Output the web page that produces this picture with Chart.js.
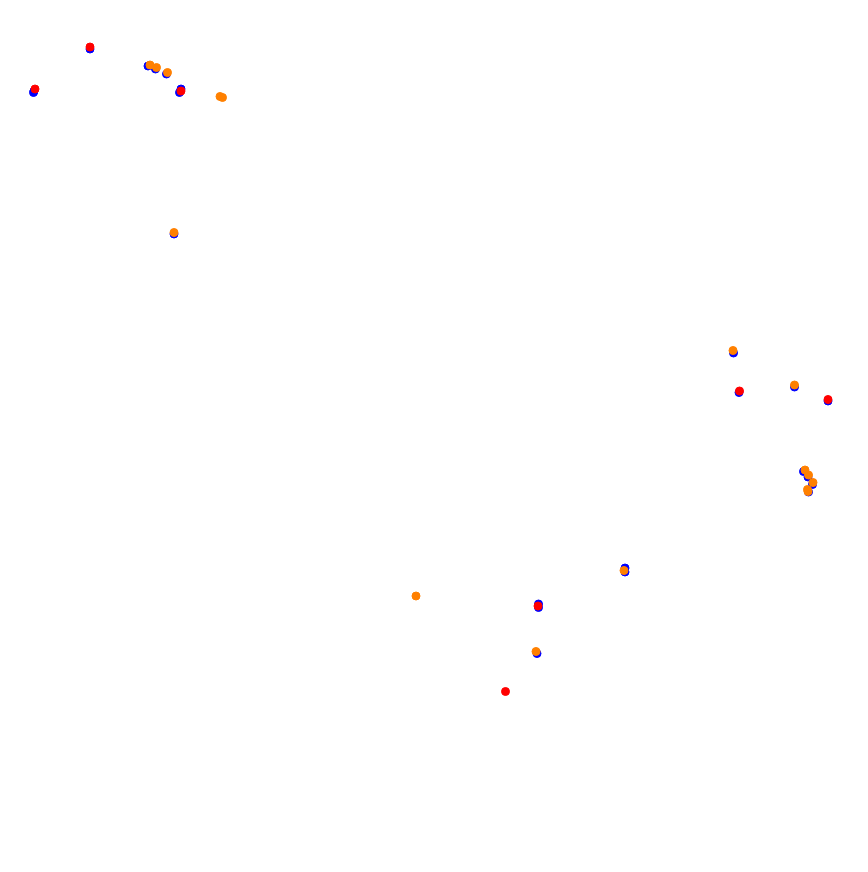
<!DOCTYPE html>
<html>
<head>
<meta charset="utf-8">
<script src="https://cdn.jsdelivr.net/npm/chart.js"></script>
<style>
  html, body { margin: 0; padding: 0; background: #fff; }
  #wrap { width: 868px; height: 872px; }
</style>
</head>
<body>
<div id="wrap"><canvas id="myChart"></canvas></div>
<script>
// blue = all points, red / orange = the two matched subsets
var blueX = [33.5, 34, 90, 148, 155.5, 166.5, 181, 179.5, 174, 733.5, 739, 794.5, 828, 803.5, 808, 812.5, 808.5, 625, 625, 538.5, 538.5, 537];
var blueY = [92.5, 91, 49, 66, 69, 74, 89, 92.5, 234, 353, 392.5, 387, 401, 471.5, 477, 484.5, 492, 568, 572, 604, 607.5, 653.5];

var redX = [35, 90, 181, 739.5, 828, 538, 505.5];
var redY = [89, 47, 91, 391, 399.5, 606, 691.5];

var orangeX = [150, 156.5, 167.5, 220, 222.5, 174, 733, 794.5, 805, 808.5, 813, 807.5, 808, 416, 624, 536];
var orangeY = [65, 67.5, 72.5, 96.5, 97.5, 232.5, 350.5, 385, 470, 475, 482.5, 489.5, 491.5, 596, 570.5, 651.5];

function toPoints(xs, ys) {
    var pts = [];
    for (var i = 0; i < xs.length; i++) {
        pts.push({ x: xs[i], y: ys[i] });
    }
    return pts;
}

var ctx = document.getElementById('myChart').getContext('2d');
var myChart = new Chart(ctx, {
    type: 'scatter',
    data: {
        datasets: [{
            label: "Red",
            data: toPoints(redX, redY),
            backgroundColor: "#ff0000",
            borderColor: "#ff0000",
            pointRadius: 4,
            borderWidth: 1,
            order: 1
        }, {
            label: "Orange",
            data: toPoints(orangeX, orangeY),
            backgroundColor: "#ff8000",
            borderColor: "#ff8000",
            pointRadius: 4,
            borderWidth: 1,
            order: 2
        }, {
            label: "Blue",
            data: toPoints(blueX, blueY),
            backgroundColor: "#0000ff",
            borderColor: "#0000ff",
            pointRadius: 4,
            borderWidth: 1,
            order: 3
        }]
    },
    options: {
        responsive: true,
        maintainAspectRatio: false,
        animation: false,
        layout: { padding: 0, autoPadding: false },
        plugins: {
            legend: { display: false },
            tooltip: { enabled: false }
        },
        scales: {
            x: { type: 'linear', min: 0, max: 868, display: false },
            y: { type: 'linear', min: 0, max: 872, reverse: true, display: false }
        }
    }
});
</script>
</body>
</html>
